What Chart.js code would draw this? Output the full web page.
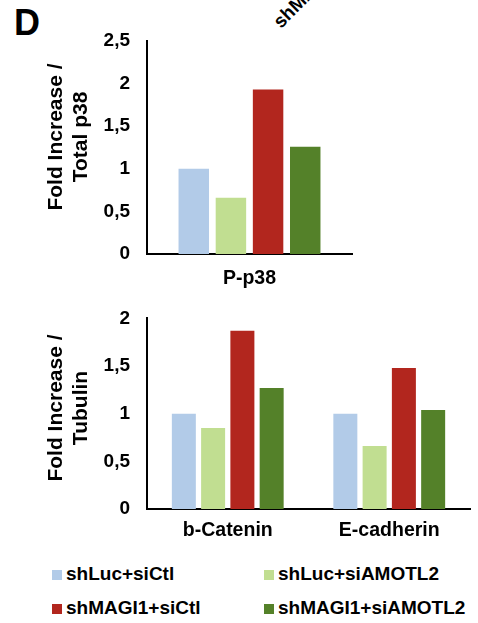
<!DOCTYPE html>
<html>
<head>
<meta charset="utf-8">
<script src="https://cdn.jsdelivr.net/npm/chart.js@4.4.1/dist/chart.umd.min.js"></script>
<style>
  body { margin: 0; background: #fff; width: 478px; height: 623px; overflow: hidden; position: relative; font-family: "Liberation Sans", Arial, sans-serif; }
  .box { position: absolute; left: 0; width: 478px; }
  #panel { position: absolute; left: 14px; top: 5px; font-size: 36px; font-weight: bold; line-height: 1; }
  #cutLabel { position: absolute; left: 283px; top: 12px; font-size: 19px; font-weight: bold; line-height: 1; transform-origin: left bottom; transform: rotate(-45deg); white-space: nowrap; }
  .ytitle { position: absolute; width: 200px; height: 50px; font-size: 21px; font-weight: bold; line-height: 25px; text-align: center; transform: translate(-50%, -50%) rotate(-90deg); white-space: nowrap; }
  #legend { position: absolute; left: 0; top: 560px; width: 478px; }
  .item { position: absolute; font-size: 19px; font-weight: bold; line-height: 20px; white-space: nowrap; }
  .item span.sw { display: inline-block; width: 10px; height: 10px; margin-right: 4px; vertical-align: 0px; }
</style>
</head>
<body>
<div id="panel">D</div>
<div id="cutLabel">shMAGI1+siCtl</div>
<div class="box" style="top:0;height:300px"><canvas id="topChart"></canvas></div>
<div class="box" style="top:290px;height:260px"><canvas id="bottomChart"></canvas></div>
<div class="ytitle" style="left:67px;top:137px">Fold Increase /<br>Total p38</div>
<div class="ytitle" style="left:67px;top:408px">Fold Increase /<br>Tubulin</div>
<div id="legend"></div>
<script>
const seriesNames = ['shLuc+siCtl', 'shLuc+siAMOTL2', 'shMAGI1+siCtl', 'shMAGI1+siAMOTL2'];
const seriesColors = ['#B2CBE8', '#C1DE91', '#B2261E', '#548129'];

// top panel: P-p38 normalised to total p38
const topCategories = ['P-p38'];
const topValues = [[1.0], [0.66], [1.93], [1.26]];
const topTicks = [0, 0.5, 1, 1.5, 2, 2.5];

// bottom panel: normalised to tubulin
const bottomCategories = ['b-Catenin', 'E-cadherin'];
const bottomValues = [[1.0, 1.0], [0.85, 0.66], [1.87, 1.48], [1.27, 1.04]];
const bottomTicks = [0, 0.5, 1, 1.5, 2];

const fontFam = '"Liberation Sans", Arial, sans-serif';

function makeChart(id, categories, values, ticks, pad, xHeight, labelPad) {
    const ctx = document.getElementById(id).getContext('2d');
    return new Chart(ctx, {
        type: 'bar',
        data: {
            labels: categories,
            datasets: seriesNames.map((name, i) => ({
                label: name,
                data: values[i],
                backgroundColor: seriesColors[i],
                borderWidth: 0,
                categoryPercentage: 0.725,
                barPercentage: 0.82
            }))
        },
        options: {
            responsive: true,
            maintainAspectRatio: false,
            animation: false,
            layout: { padding: pad },
            plugins: { legend: { display: false }, tooltip: { enabled: false } },
            scales: {
                x: {
                    grid: { display: false, drawTicks: false },
                    border: { color: '#000', width: 2 },
                    ticks: { color: '#000', padding: labelPad, font: { family: fontFam, size: 19.5, weight: 'bold' } },
                    afterFit: s => { s.height = xHeight; }
                },
                y: {
                    min: 0,
                    max: ticks[ticks.length - 1],
                    afterBuildTicks: s => { s.ticks = ticks.map(v => ({ value: v })); },
                    grid: { display: false, drawTicks: false },
                    border: { color: '#000', width: 2 },
                    ticks: {
                        color: '#000', padding: 17,
                        font: { family: fontFam, size: 19, weight: 'bold' },
                        callback: v => String(v).replace('.', ',')
                    },
                    afterFit: s => { s.width = 147; }
                }
            }
        }
    });
}

makeChart('topChart', topCategories, topValues, topTicks,
    { left: 0, top: 41, right: 126, bottom: 0 }, 46, 13);
makeChart('bottomChart', bottomCategories, bottomValues, bottomTicks,
    { left: 0, top: 17, right: 8, bottom: 0 }, 41, 10);

// legend built from the series arrays
const legend = document.getElementById('legend');
const legendPos = [[52, 4], [264, 4], [52, 38], [264, 38]];
seriesNames.forEach((name, i) => {
    const d = document.createElement('div');
    d.className = 'item';
    d.style.left = legendPos[i][0] + 'px';
    d.style.top = legendPos[i][1] + 'px';
    d.innerHTML = '<span class="sw" style="background:' + seriesColors[i] + '"></span>' + name;
    legend.appendChild(d);
});
</script>
</body>
</html>
